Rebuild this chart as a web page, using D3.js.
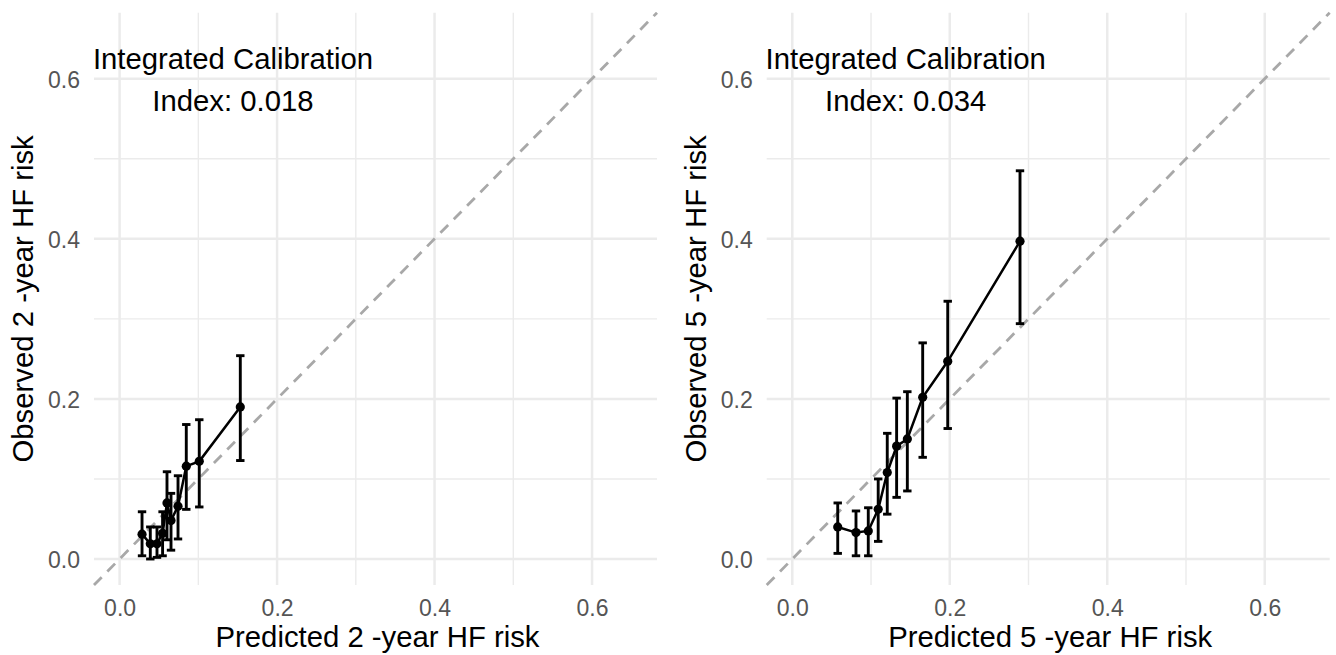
<!DOCTYPE html>
<html>
<head>
<meta charset="utf-8">
<script src="https://cdn.jsdelivr.net/npm/d3@7"></script>
<style>
  body { margin: 0; background: #fff; }
  svg { display: block; font-family: "Liberation Sans", Arial, sans-serif; }
</style>
</head>
<body>
<div id="chart"></div>
<script>
// 2-year panel
const pred2 = [0.0285, 0.039, 0.0475, 0.0546, 0.0602, 0.0653, 0.0742, 0.0847, 0.1012, 0.1533];
const obs2  = [0.031, 0.019, 0.019, 0.032, 0.070, 0.048, 0.066, 0.116, 0.122, 0.190];
const lo2   = [0.004, 0.000, 0.002, 0.004, 0.024, 0.011, 0.025, 0.062, 0.065, 0.123];
const hi2   = [0.059, 0.040, 0.040, 0.059, 0.109, 0.082, 0.104, 0.168, 0.174, 0.254];

// 5-year panel
const pred5 = [0.0577, 0.0809, 0.0965, 0.1091, 0.1206, 0.1325, 0.1461, 0.1656, 0.1974, 0.2892];
const obs5  = [0.040, 0.033, 0.035, 0.062, 0.108, 0.141, 0.150, 0.202, 0.247, 0.397];
const lo5   = [0.007, 0.004, 0.004, 0.022, 0.056, 0.077, 0.085, 0.127, 0.163, 0.294];
const hi5   = [0.070, 0.060, 0.064, 0.100, 0.157, 0.201, 0.209, 0.270, 0.322, 0.485];

const majorTicks = [0.0, 0.2, 0.4, 0.6];
const minorTicks = [0.1, 0.3, 0.5];
const domain = [-0.0325, 0.6825];

const panels = [
  { left: 94, xTitle: "Predicted 2 -year HF risk", yTitle: "Observed 2 -year HF risk",
    x: pred2, y: obs2, lo: lo2, hi: hi2, index: "Index: 0.018" },
  { left: 766.7, xTitle: "Predicted 5 -year HF risk", yTitle: "Observed 5 -year HF risk",
    x: pred5, y: obs5, lo: lo5, hi: hi5, index: "Index: 0.034" }
];

const W = 1336, H = 655;
const plotW = 563, plotTop = 12.7, plotBottom = 585;

const svg = d3.select("#chart").append("svg")
  .attr("width", W).attr("height", H);

panels.forEach(p => {
  const x = d3.scaleLinear().domain(domain).range([p.left, p.left + plotW]);
  const y = d3.scaleLinear().domain(domain).range([plotBottom, plotTop]);
  const g = svg.append("g");

  // grid
  const grid = g.append("g");
  grid.selectAll(".vmin").data(minorTicks).enter().append("line")
    .attr("x1", d => x(d)).attr("x2", d => x(d)).attr("y1", plotTop).attr("y2", plotBottom)
    .attr("stroke", "#ebebeb").attr("stroke-width", 1.4);
  grid.selectAll(".hmin").data(minorTicks).enter().append("line")
    .attr("y1", d => y(d)).attr("y2", d => y(d)).attr("x1", p.left).attr("x2", p.left + plotW)
    .attr("stroke", "#ebebeb").attr("stroke-width", 1.4);
  grid.selectAll(".vmaj").data(majorTicks).enter().append("line")
    .attr("x1", d => x(d)).attr("x2", d => x(d)).attr("y1", plotTop).attr("y2", plotBottom)
    .attr("stroke", "#ebebeb").attr("stroke-width", 2.5);
  grid.selectAll(".hmaj").data(majorTicks).enter().append("line")
    .attr("y1", d => y(d)).attr("y2", d => y(d)).attr("x1", p.left).attr("x2", p.left + plotW)
    .attr("stroke", "#ebebeb").attr("stroke-width", 2.5);

  // axes (text only, like theme_minimal)
  const xAxis = g.append("g").attr("transform", `translate(0,${plotBottom})`)
    .call(d3.axisBottom(x).tickValues(majorTicks).tickFormat(d3.format(".1f")).tickSize(0));
  const yAxis = g.append("g").attr("transform", `translate(${p.left},0)`)
    .call(d3.axisLeft(y).tickValues(majorTicks).tickFormat(d3.format(".1f")).tickSize(0).tickPadding(14));
  [xAxis, yAxis].forEach(a => {
    a.select(".domain").remove();
    a.selectAll("text").attr("fill", "#555").attr("font-size", 23)
      .attr("font-family", "'Liberation Sans', Arial, sans-serif");
  });
  xAxis.selectAll("text").attr("dy", 0).attr("y", 31);
  yAxis.selectAll("text").attr("dy", "0.36em");

  // diagonal reference
  g.append("line")
    .attr("x1", x(domain[0])).attr("y1", y(domain[0]))
    .attr("x2", x(domain[1])).attr("y2", y(domain[1]))
    .attr("stroke", "#a8a8a8").attr("stroke-width", 2.8)
    .attr("stroke-dasharray", "11,8");

  const pts = p.x.map((d, i) => ({ x: d, y: p.y[i], lo: p.lo[i], hi: p.hi[i] }));

  // connecting line
  g.append("path").datum(pts)
    .attr("fill", "none").attr("stroke", "#000").attr("stroke-width", 2.5)
    .attr("d", d3.line().x(d => x(d.x)).y(d => y(d.y)));

  // error bars
  const eb = g.append("g").attr("stroke", "#000").attr("stroke-width", 2.9);
  eb.selectAll(".v").data(pts).enter().append("line")
    .attr("x1", d => x(d.x)).attr("x2", d => x(d.x))
    .attr("y1", d => y(d.lo)).attr("y2", d => y(d.hi));
  eb.selectAll(".capl").data(pts).enter().append("line")
    .attr("x1", d => x(d.x) - 4.2).attr("x2", d => x(d.x) + 4.2)
    .attr("y1", d => y(d.lo)).attr("y2", d => y(d.lo));
  eb.selectAll(".caph").data(pts).enter().append("line")
    .attr("x1", d => x(d.x) - 4.2).attr("x2", d => x(d.x) + 4.2)
    .attr("y1", d => y(d.hi)).attr("y2", d => y(d.hi));

  // points
  g.selectAll("circle").data(pts).enter().append("circle")
    .attr("cx", d => x(d.x)).attr("cy", d => y(d.y)).attr("r", 4.6).attr("fill", "#000");

  // annotation
  const ann = g.append("text").attr("text-anchor", "middle").attr("font-size", 29.3).attr("fill", "#000");
  ann.append("tspan").attr("x", x(0.144)).attr("y", y(0.6125)).text("Integrated Calibration");
  ann.append("tspan").attr("x", x(0.144)).attr("y", y(0.6125) + 42).text(p.index);

  // axis titles
  g.append("text").attr("text-anchor", "middle").attr("font-size", 29.3).attr("fill", "#000")
    .attr("x", p.left + plotW / 2 + 2).attr("y", 647).text(p.xTitle);
  g.append("text").attr("text-anchor", "middle").attr("font-size", 29.3).attr("fill", "#000")
    .attr("transform", `translate(${p.left - 61},${(plotTop + plotBottom) / 2}) rotate(-90)`)
    .text(p.yTitle);
});
</script>
</body>
</html>
